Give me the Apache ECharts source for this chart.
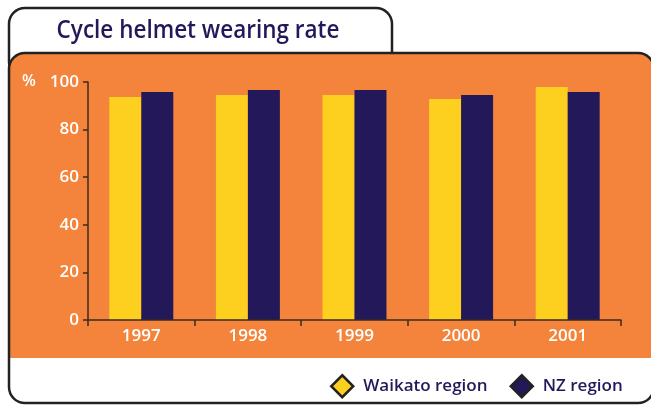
<!DOCTYPE html>
<html>
<head>
<meta charset="utf-8">
<script src="https://cdn.jsdelivr.net/npm/echarts@6/dist/echarts.min.js"></script>
<style>
html,body{margin:0;padding:0;background:#fff;}
#c{width:651px;height:406px;}
</style>
</head>
<body>
<div id="c"></div>
<script>
var categories = ['1997', '1998', '1999', '2000', '2001'];
var waikato = [93.7, 94.5, 94.5, 92.9, 97.9];
var nz = [95.8, 96.6, 96.6, 94.5, 95.8];
var seriesNames = ['Waikato region', 'NZ region'];
var titleText = 'Cycle helmet wearing rate';
var yUnit = '%';

var ORANGE = '#F4843B', YELLOW = '#FDD01F', NAVY = '#22185A', LINE = '#222222';
var FONT = '"Open Sans", sans-serif';

var chart = echarts.init(document.getElementById('c'), null, {renderer: 'canvas'});
chart.setOption({
  animation: false,
  backgroundColor: '#ffffff',
  graphic: [
    {type: 'rect', z: 0, shape: {x: 9, y: 8, width: 383, height: 70, r: 16},
     style: {fill: '#fff', stroke: LINE, lineWidth: 2.5}},
    {type: 'rect', z: 1, shape: {x: 9, y: 53, width: 645, height: 350, r: 16},
     style: {fill: '#fff', stroke: null}},
    {type: 'rect', z: 2, shape: {x: 9, y: 53, width: 645, height: 305, r: [16, 16, 0, 0]},
     style: {fill: ORANGE, stroke: null}},
    {type: 'rect', z: 3, shape: {x: 9, y: 53, width: 645, height: 350, r: 16},
     style: {fill: 'none', stroke: LINE, lineWidth: 2.5}},
    {type: 'text', z: 4, x: 198, y: 31, scaleX: 0.9, originX: 0,
     style: {text: titleText, fill: NAVY, font: '600 25px ' + FONT, textAlign: 'center', textVerticalAlign: 'middle'}},
    {type: 'text', z: 4, x: 22, y: 81,
     style: {text: yUnit, fill: '#fff', font: '600 16px ' + FONT, textAlign: 'left', textVerticalAlign: 'middle'}}
  ],
  grid: {left: 88, right: 30, top: 82, bottom: 86, containLabel: false},
  legend: {
    data: seriesNames, left: 330, top: 374, padding: 0, icon: 'diamond', itemWidth: 22, itemHeight: 22, itemGap: 22,
    itemStyle: {borderColor: LINE, borderWidth: 2.5},
    textStyle: {color: NAVY, fontSize: 17, fontFamily: FONT, fontWeight: 600, padding: [0, 0, 0, 5]}
  },
  xAxis: {
    type: 'category', data: categories, z: 10,
    axisLine: {show: true, lineStyle: {color: '#3a2a20', width: 1.5}},
    axisTick: {show: true, alignWithLabel: false, length: 6, lineStyle: {color: '#3a2a20', width: 1.5}},
    axisLabel: {color: '#fff', fontSize: 17, fontWeight: 600, fontFamily: FONT, margin: 8}
  },
  yAxis: {
    type: 'value', min: 0, max: 100, interval: 20, z: 10,
    axisLine: {show: true, lineStyle: {color: '#3a2a20', width: 1.5}},
    axisTick: {show: true, length: 5, lineStyle: {color: '#3a2a20', width: 1.5}},
    axisLabel: {color: '#fff', fontSize: 17, fontWeight: 600, fontFamily: FONT, margin: 9},
    splitLine: {show: false}
  },
  series: [
    {name: seriesNames[0], type: 'bar', data: waikato, barGap: '0%', barCategoryGap: '40%', z: 5,
     itemStyle: {color: YELLOW}},
    {name: seriesNames[1], type: 'bar', data: nz, barGap: '0%', barCategoryGap: '40%', z: 5,
     itemStyle: {color: NAVY}}
  ]
});
</script>
</body>
</html>
